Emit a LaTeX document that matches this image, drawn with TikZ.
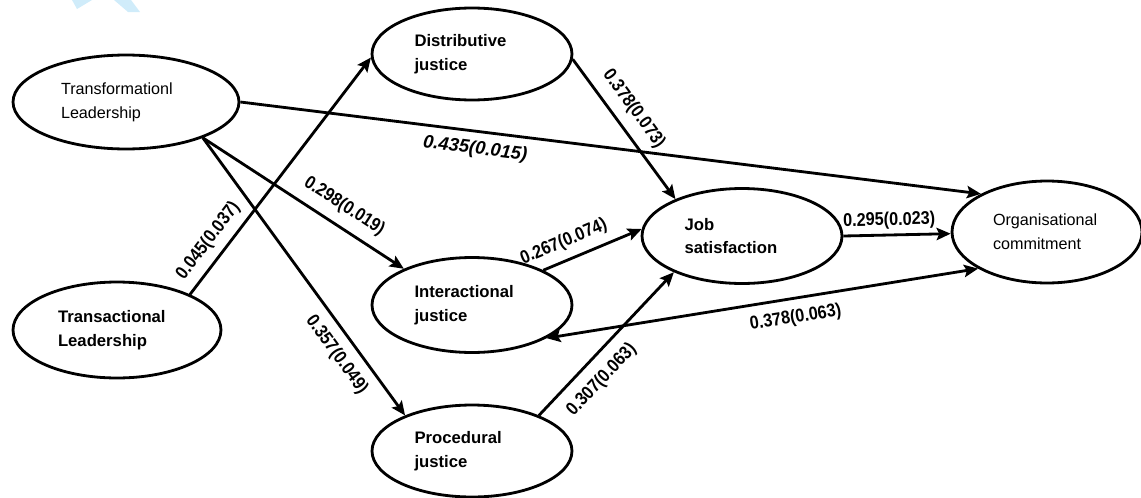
\documentclass[tikz,border=0pt]{standalone}
\usepackage{fontspec}
\setmainfont{Liberation Sans}
\usepackage{graphicx}
\usetikzlibrary{shapes.geometric, arrows.meta}
\definecolor{wmblue}{RGB}{208,236,250}
\newcommand{\cf}[1]{\scalebox{0.88}[1]{#1}} % narrow figures for the coefficients
\tikzset{
	>={Stealth[length=8pt, width=7pt, inset=1.5pt]}, % filled arrow heads
	construct/.style={ellipse, draw, line width=1.6pt, inner sep=0pt, minimum width=4cm, minimum height=1.9cm, text width=2.3cm, align=left, font=\fontsize{9.5}{13.5}\selectfont\bfseries}, % every latent variable
	light/.style={font=\fontsize{9.2}{13.5}\selectfont}, % the two names set in the thin face
	link/.style={draw, ->, line width=1.6pt}, % every path between constructs
	coef/.style={sloped, inner sep=1.5pt, font=\fontsize{10.5}{12}\selectfont\bfseries}, % path coefficient (s.e.)
}
\begin{document}
\begin{tikzpicture}[x=0.02cm, y=-0.02cm]
	\useasboundingbox (0,0) rectangle (1141,497);
	% faint watermark at the top
	\fill[wmblue] (72,0) -- (92,0) -- (77,9) -- cycle;
	\fill[wmblue] (114,0) -- (131,0) -- (140,12) -- (128,12) -- cycle;
	% constructs
	\node[construct, light, minimum width=4.52cm, minimum height=1.88cm, text width=2.6cm] (tfl) at (126,102) {Transformationl\\Leadership};
	\node[construct, minimum width=4.16cm, minimum height=1.92cm, text width=2.36cm] (tal) at (117,330) {Transactional\\Leadership};
	\node[construct, minimum height=1.84cm] (dj) at (472,54) {Distributive\\justice};
	\node[construct] (ij) at (472,305) {Interactional\\justice};
	\node[construct, minimum height=1.84cm] (pj) at (472,451) {Procedural\\justice};
	\node[construct] (js) at (742,236) {Job\\satisfaction};
	\node[construct, light, minimum width=3.8cm, minimum height=2.04cm, text width=2.16cm] (oc) at (1047,232) {Organisational\\commitment};
	% paths
	\path (tfl.east) edge[link] node[coef, below=3pt, pos=0.32, font=\fontsize{10.5}{12}\selectfont\bfseries\itshape] {0.435(0.015)} (oc.150)
		(tfl.-25) edge[link] node[coef, above=4pt, pos=0.65] {\cf{0.298(0.019)}} (ij.152)
		edge[link] node[coef, below=4pt, pos=0.74] {\cf{0.357(0.049)}} (pj.152)
		(tal.26) edge[link] node[coef, above=3pt, pos=0.18] {\cf{0.045(0.037)}} (dj.182)
		(dj.-3) edge[link] node[coef, above=4pt, pos=0.44] {\cf{0.378(0.073)}} (js.151)
		(ij.26) edge[link] node[coef, above=3pt, pos=0.28] {\cf{0.267(0.074)}} (js.176)
		(pj.28) edge[link] node[coef, below=5pt, pos=0.35] {\cf{0.307(0.063)}} (js.208)
		(js.0) edge[link] node[coef, above=1pt, pos=0.43] {\cf{0.295(0.023)}} (oc.181)
		(ij.-24) edge[link, <->] node[coef, below=4pt, pos=0.57] {\cf{0.378(0.063)}} (oc.208);
\end{tikzpicture}
\end{document}
